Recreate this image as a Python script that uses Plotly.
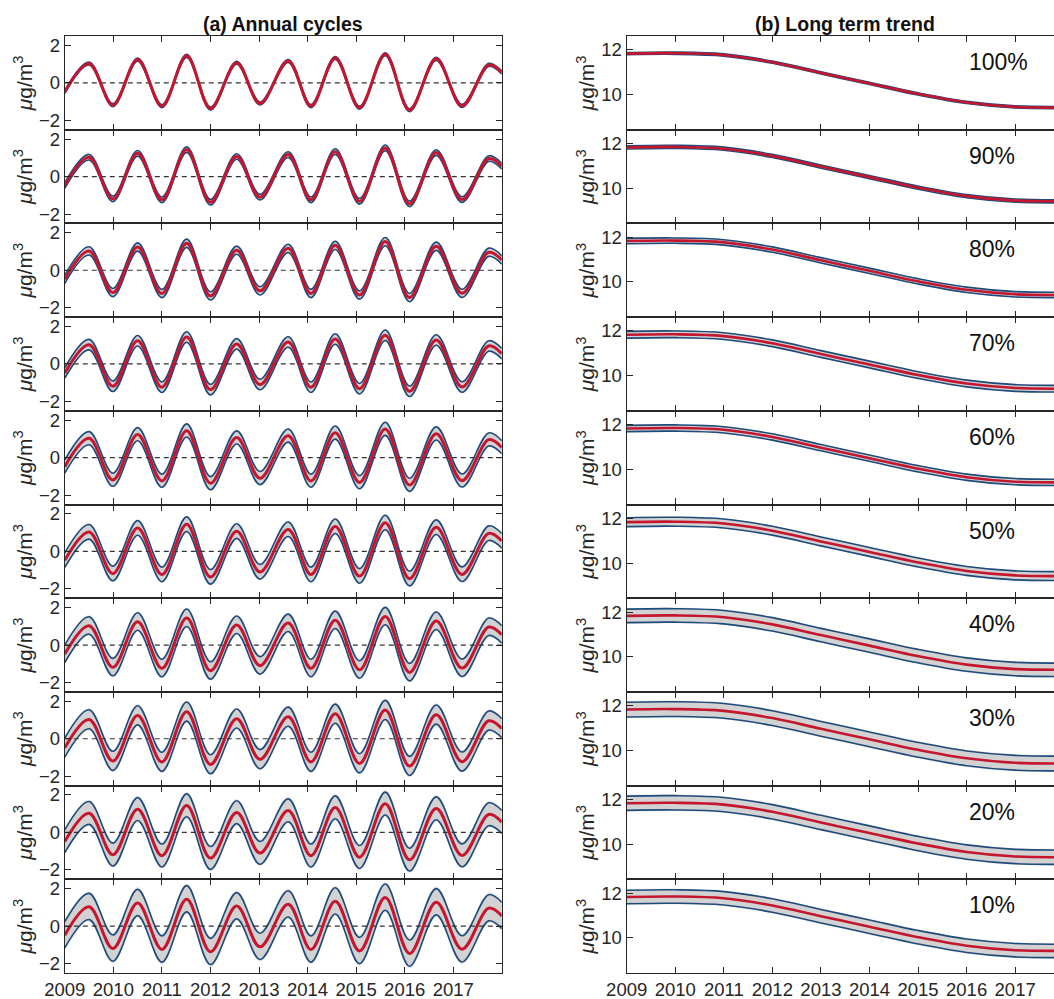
import plotly.graph_objects as go

# ---------------- data ----------------
pct_labels = ["100%", "90%", "80%", "70%", "60%", "50%", "40%", "30%", "20%", "10%"]

# (a) annual cycle: time of extrema (decimal year) and ensemble-mean value
ac_x = [2009.0, 2009.5, 2009.99, 2010.5, 2011.0, 2011.51, 2012.0, 2012.54, 2013.02,
        2013.6, 2014.07, 2014.57, 2015.07, 2015.6, 2016.1, 2016.65, 2017.18, 2017.73, 2018.0]
ac_mean = [-0.48, 1.03, -1.19, 1.24, -1.24, 1.44, -1.37, 1.07, -1.10,
           1.17, -1.24, 1.33, -1.32, 1.53, -1.46, 1.28, -1.23, 0.96, 0.55]
# half-width of the ensemble band (upper / lower) for each panel
ac_up = [0.08, 0.15, 0.22, 0.28, 0.36, 0.40, 0.48, 0.52, 0.62, 0.72]
ac_lo = [0.08, 0.15, 0.22, 0.28, 0.34, 0.38, 0.45, 0.50, 0.60, 0.68]

# (b) long-term trend
tr_x = [2009, 2010, 2011, 2012, 2013, 2014, 2015, 2016, 2017, 2018]
tr_mean = [11.83, 11.85, 11.77, 11.45, 10.97, 10.50, 10.03, 9.65, 9.45, 9.42]
tr_sp = [0.05, 0.07, 0.12, 0.15, 0.14, 0.20, 0.30, 0.33, 0.32, 0.30]

year_ticks = [2009, 2010, 2011, 2012, 2013, 2014, 2015, 2016, 2017]
ac_ticks = [-2, 0, 2]
tr_ticks = [10, 12]

# ---------------- styling ----------------
W, H = 1054, 999
TOP, BOT = 36.0, 973.0
RH = (BOT - TOP) / 10
LX0, LX1 = 64.8, 501.8
RX0 = 626.7
YPX = (LX1 - LX0) / 9.0
FONT = "Liberation Sans, Arial, Helvetica, sans-serif"
AX = "#262626"
RED = "#c4162e"
BLUE = "#1f4a7c"
BAND = "#d2d2d2"
HALO = "#e9e9e9"
TICKSZ = 18.5

fig = go.Figure()
layout = dict(
    width=W, height=H, margin=dict(l=0, r=0, t=0, b=0),
    paper_bgcolor="white", plot_bgcolor="white", showlegend=False,
    font=dict(family=FONT, size=TICKSZ, color=AX),
)


def add_band(xs, mid, up, lo, xr, yr, red_w, zero):
    hi = [m + up for m in mid]
    low = [m - lo for m in mid]
    hhi = [m + up * 1.18 for m in mid]
    hlo = [m - lo * 1.18 for m in mid]
    common = dict(x=xs, mode="lines", xaxis=xr, yaxis=yr, hoverinfo="skip")
    sp = dict(shape="spline", smoothing=1.0)
    fig.add_trace(go.Scatter(y=hlo, line=dict(width=0, **sp), **common))
    fig.add_trace(go.Scatter(y=hhi, line=dict(width=0, **sp), fill="tonexty",
                             fillcolor=HALO, **common))
    fig.add_trace(go.Scatter(y=low, line=dict(width=0, **sp), **common))
    fig.add_trace(go.Scatter(y=hi, line=dict(width=0, **sp), fill="tonexty",
                             fillcolor=BAND, **common))
    fig.add_trace(go.Scatter(y=low, line=dict(width=1.6, color=BLUE, **sp), **common))
    fig.add_trace(go.Scatter(y=hi, line=dict(width=1.6, color=BLUE, **sp), **common))
    if zero:
        fig.add_trace(go.Scatter(x=[xs[0], xs[-1]], y=[0, 0], mode="lines",
                                 xaxis=xr, yaxis=yr, hoverinfo="skip",
                                 line=dict(color="#333333", width=1.2, dash="5px,4px")))
    fig.add_trace(go.Scatter(y=mid, line=dict(width=red_w, color=RED, **sp), **common))


annotations = []
for i in range(10):
    yd = [1 - (TOP + (i + 1) * RH) / H, 1 - (TOP + i * RH) / H]
    for j in range(2):
        k = 2 * i + j + 1
        xname = "xaxis" if k == 1 else f"xaxis{k}"
        yname = "yaxis" if k == 1 else f"yaxis{k}"
        xr = "x" if k == 1 else f"x{k}"
        yr = "y" if k == 1 else f"y{k}"
        if j == 0:
            xdom = [LX0 / W, LX1 / W]
            xrange = [2009, 2018]
            yrange = [-2.5, 2.5]
            yticks = ac_ticks
            ymirror = "allticks"
        else:
            xdom = [RX0 / W, 1.0]
            xrange = [2009, 2009 + (W - RX0) / YPX]
            yrange = [8.43, 12.62]
            yticks = tr_ticks
            ymirror = False
        layout[xname] = dict(
            domain=xdom, range=xrange, anchor=yr, tickvals=year_ticks,
            ticks="inside", ticklen=6, tickwidth=1, tickcolor=AX,
            showline=True, linecolor=AX, linewidth=1.2, mirror="allticks",
            showgrid=False, zeroline=False, showticklabels=(i == 9),
            tickfont=dict(size=TICKSZ, color=AX, family=FONT), automargin=False,
        )
        layout[yname] = dict(
            domain=yd, range=yrange, anchor=xr, tickvals=yticks,
            ticks="inside", ticklen=6, tickwidth=1, tickcolor=AX,
            showline=True, linecolor=AX, linewidth=1.2, mirror=ymirror,
            showgrid=False, zeroline=False,
            tickfont=dict(size=TICKSZ, color=AX, family=FONT), automargin=False,
            title=dict(text="<i>μ</i>g/m<sup>3</sup>", standoff=0,
                       font=dict(size=21, color=AX, family=FONT)),
        )
        if j == 0:
            add_band(ac_x, ac_mean, ac_up[i], ac_lo[i], xr, yr, 3.0, True)
        else:
            add_band(tr_x, tr_mean, tr_sp[i], tr_sp[i], xr, yr, 2.6, False)
    annotations.append(dict(
        text=pct_labels[i], xref="paper", yref="paper",
        x=967 / W, y=1 - (TOP + i * RH + 26) / H, xanchor="left", yanchor="middle",
        showarrow=False, font=dict(size=23, color="#111111", family=FONT)))

annotations.append(dict(text="<b>(a) Annual cycles</b>", xref="paper", yref="paper",
                        x=(LX0 + LX1) / 2 / W, y=1 - 24 / H, xanchor="center", yanchor="middle",
                        showarrow=False, font=dict(size=19.5, color="#111111", family=FONT)))
annotations.append(dict(text="<b>(b) Long term trend</b>", xref="paper", yref="paper",
                        x=(RX0 + RX0 + 9 * YPX) / 2 / W, y=1 - 24 / H, xanchor="center",
                        yanchor="middle", showarrow=False,
                        font=dict(size=19.5, color="#111111", family=FONT)))
layout["annotations"] = annotations
fig.update_layout(**layout)
fig.write_html("out.html")
